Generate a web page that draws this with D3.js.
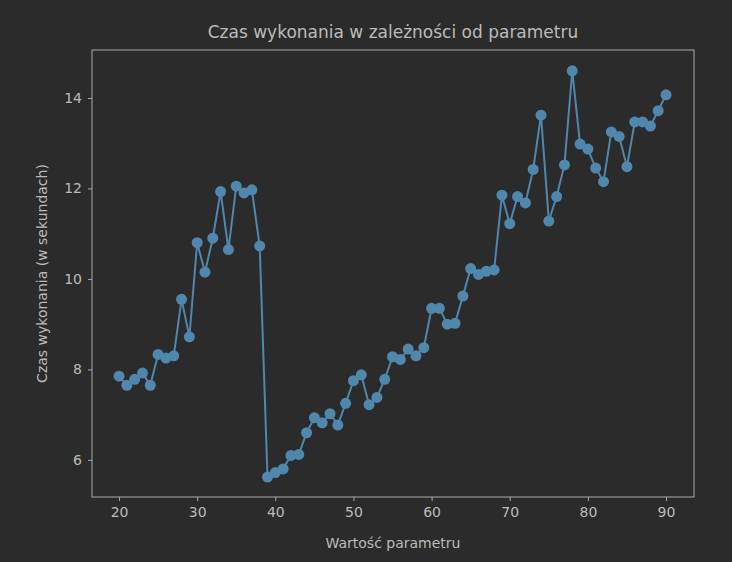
<!DOCTYPE html>
<html><head><meta charset="utf-8">
<script src="https://cdn.jsdelivr.net/npm/d3@7"></script>
<style>body{margin:0;background:#2b2b2b;font-family:"DejaVu Sans",sans-serif}</style>
</head><body><svg width="732" height="562"></svg>
<script>
const params = d3.range(20, 91);
const times = [7.85,7.65,7.78,7.92,7.65,8.33,8.25,8.3,9.55,8.72,10.8,10.15,10.9,11.93,10.65,12.05,11.9,11.97,10.73,5.62,
  5.72,5.8,6.1,6.12,6.6,6.93,6.82,7.02,6.77,7.25,7.75,7.88,7.22,7.38,7.78,8.28,8.22,8.45,8.3,8.48,
  9.35,9.35,9.0,9.02,9.62,10.23,10.1,10.17,10.2,11.85,11.22,11.82,11.68,12.42,13.62,11.28,11.82,12.52,14.6,12.98,
  12.87,12.45,12.15,13.25,13.15,12.48,13.47,13.47,13.38,13.72,14.07];
const xTicks = [20,30,40,50,60,70,80,90];
const yTicks = [6,8,10,12,14];

const svg = d3.select("svg");
const L = 92, R = 694, T = 50, B = 497;
const x = d3.scaleLinear().domain([16.54, 93.58]).range([L, R]);
const y = d3.scaleLinear().domain([5.18, 15.06]).range([B, T]);
const fg = "#bbbbbb", line = "#4f87ad";

svg.append("rect").attr("width",732).attr("height",562).attr("fill","#2b2b2b");
svg.append("rect").attr("x",L).attr("y",T).attr("width",R-L).attr("height",B-T)
  .attr("fill","none").attr("stroke","#a9a9a9").attr("stroke-width",1);

const xa = svg.append("g").attr("transform","translate(0,"+B+")")
  .call(d3.axisBottom(x).tickValues(xTicks).tickSize(4).tickPadding(6));
const ya = svg.append("g").attr("transform","translate("+L+",0)")
  .call(d3.axisLeft(y).tickValues(yTicks).tickSize(4).tickPadding(6));
[xa, ya].forEach(a => {
  a.select(".domain").remove();
  a.selectAll("line").attr("stroke","#a9a9a9");
  a.selectAll("text").attr("fill",fg).attr("font-size",14).attr("font-family","DejaVu Sans");
});

const pts = params.map((p,i) => [p, times[i]]);
svg.append("path").datum(pts).attr("fill","none").attr("stroke",line).attr("stroke-width",2)
  .attr("d", d3.line().x(d=>x(d[0])).y(d=>y(d[1])));
svg.selectAll("circle.pt").data(pts).enter().append("circle").attr("class","pt")
  .attr("cx",d=>x(d[0])).attr("cy",d=>y(d[1])).attr("r",5.5).attr("fill",line);

svg.append("text").attr("x",(L+R)/2).attr("y",38).attr("text-anchor","middle")
  .attr("fill",fg).attr("font-size",17).text("Czas wykonania w zależności od parametru");
svg.append("text").attr("x",(L+R)/2).attr("y",548).attr("text-anchor","middle")
  .attr("fill",fg).attr("font-size",14).text("Wartość parametru");
svg.append("text").attr("transform","translate(47,"+((T+B)/2)+") rotate(-90)").attr("text-anchor","middle")
  .attr("fill",fg).attr("font-size",14).text("Czas wykonania (w sekundach)");
</script></body></html>
